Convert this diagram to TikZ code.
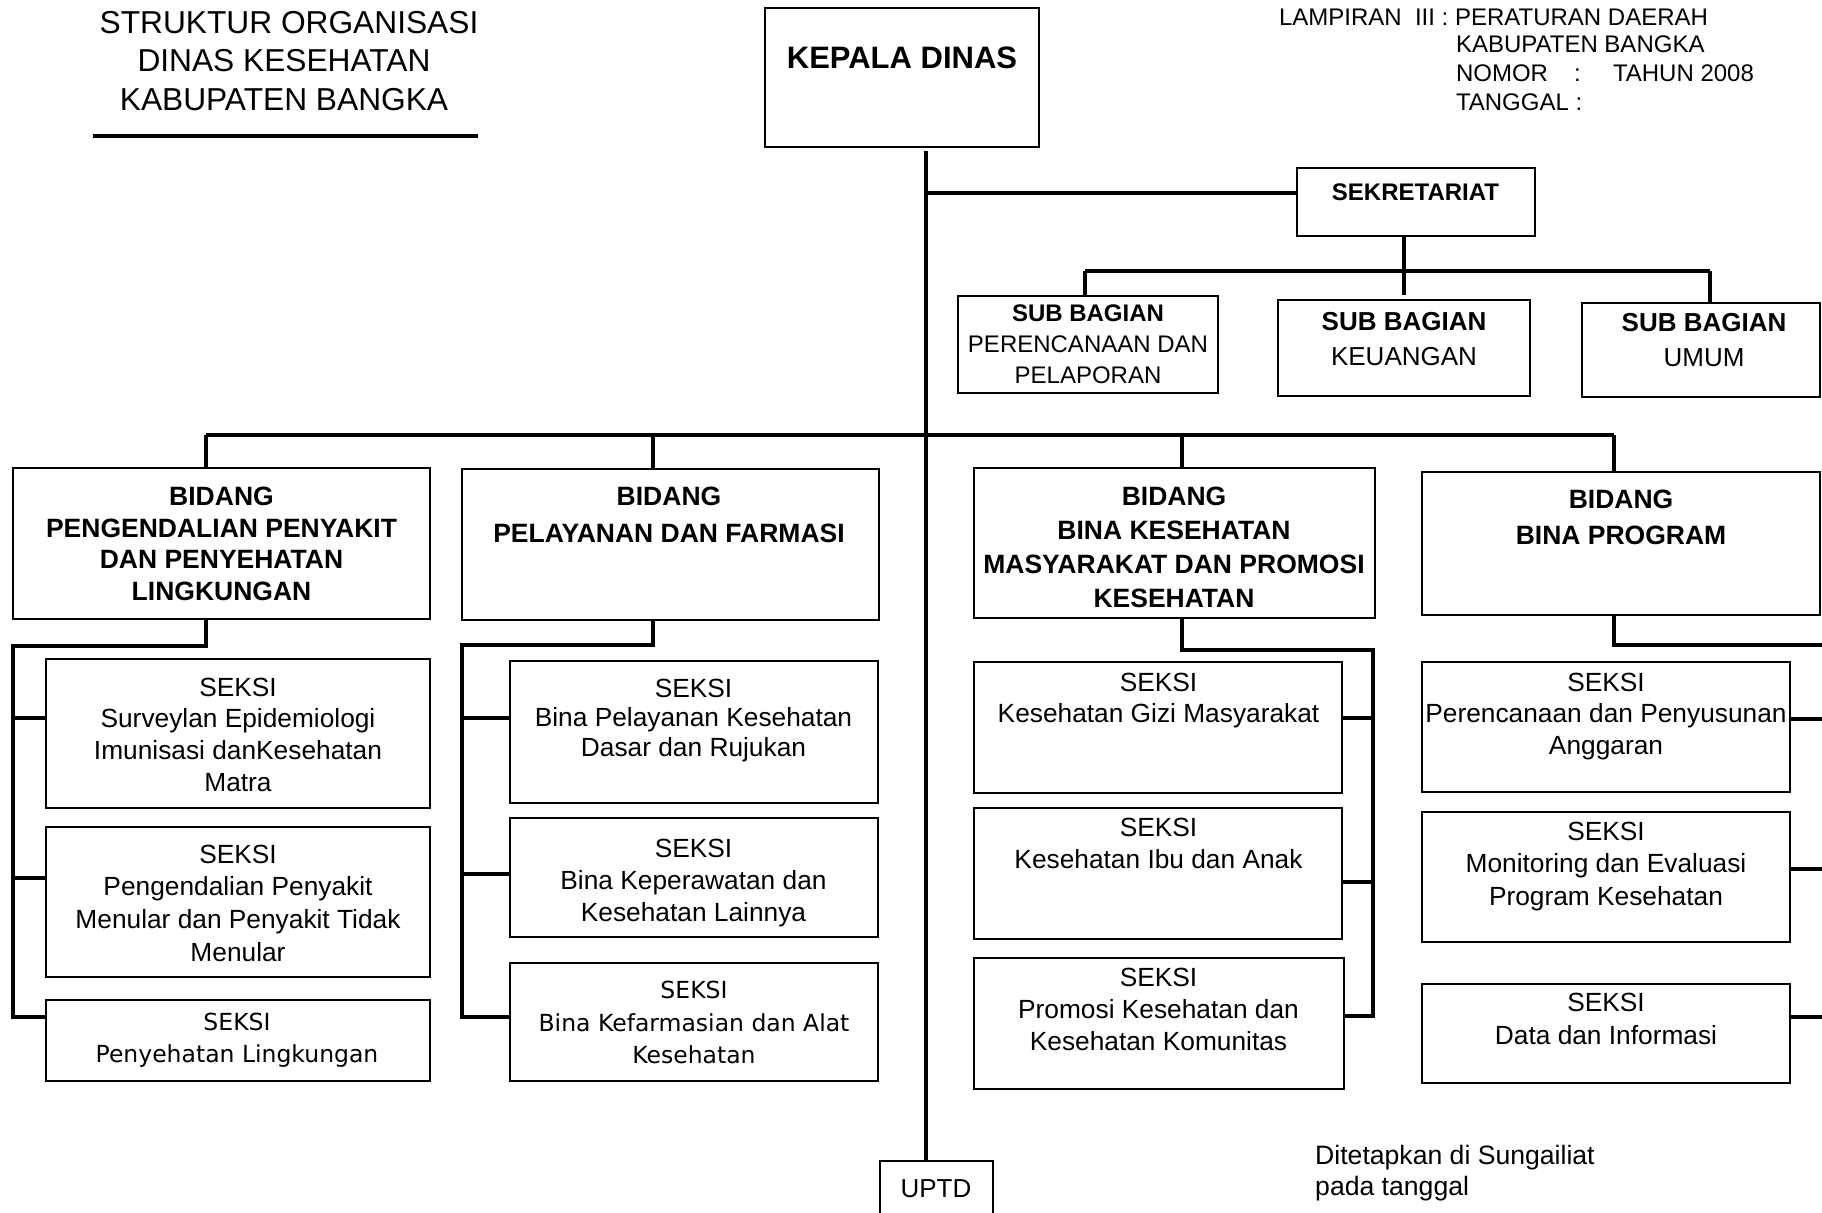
\documentclass[tikz,border=0pt]{standalone}
\usepackage{fontspec}
\setmainfont{Liberation Sans}
\newfontfamily\vfont{DejaVu Sans}
\newcommand{\ml}[1]{\begin{tabular}[t]{@{}c@{}}#1\end{tabular}}
\newcommand{\fs}[2]{\fontsize{#1}{#2}\selectfont}
\newcommand{\bx}[5]{\node[box, minimum width={#4pt-#2pt}, minimum height={#5pt-#3pt}] (#1) at ({(#2+#4)/2},{(#3+#5)/2}) {};}
\newcommand{\tx}[5]{\node[txt, font=#4] (#1) at (#2,#3) {\ml{#5}};}
\begin{document}
\begin{tikzpicture}[x=1pt,y=-1pt,
  box/.style={draw, line width=2.6pt, inner sep=0pt, outer sep=0pt},
  conn/.style={line width=3.6pt, line join=miter},
  txt/.style={anchor=base, inner sep=0pt, outer sep=0pt},
  lt/.style={anchor=base west, inner sep=0pt, outer sep=0pt, font=\fs{24}{28.3}}]
\useasboundingbox (0,0) rectangle (1822,1212);
\fill[white] (0,0) rectangle (1822,1212);
\clip (0,0) rectangle (1822,1212);

% ---- header texts
\tx{title}{284}{33.6}{\fs{31.7}{38.25}}{\hspace{10pt}STRUKTUR ORGANISASI\\DINAS KESEHATAN\\KABUPATEN BANGKA}
\coordinate (ulL) at (93,136);
\coordinate (ulR) at (478,136);
\draw[line width=4pt] (ulL) -- (ulR);

\node[lt] (lamp1) at (1279,25.4) {LAMPIRAN\ \ III : PERATURAN DAERAH};
\node[lt] (lamp2) at (1456,52.9) {KABUPATEN BANGKA};
\node[lt] (lamp3) at (1456,81.9) {NOMOR};
\node[lt] (lamp3c) at (1574,81.9) {:};
\node[lt] (lamp3t) at (1613,81.9) {TAHUN 2008};
\node[lt] (lamp4) at (1456,110.4) {TANGGAL :};

% ---- boxes
\bx{kd}{765}{8}{1039}{147}
\bx{sek}{1297}{168}{1535}{236}
\bx{sb1}{958}{296}{1218}{393}
\bx{sb2}{1278}{300}{1530}{396}
\bx{sb3}{1582}{303}{1820}{397}
\bx{b1}{13}{468}{430}{619}
\bx{b2}{462}{469}{879}{620}
\bx{b3}{974}{468}{1375}{618}
\bx{b4}{1422}{472}{1820}{615}
\bx{s11}{46}{659}{430}{808}
\bx{s12}{46}{827}{430}{977}
\bx{s13}{46}{1000}{430}{1081}
\bx{s21}{510}{661}{878}{803}
\bx{s22}{510}{818}{878}{937}
\bx{s23}{510}{963}{878}{1081}
\bx{s31}{974}{662}{1342}{793}
\bx{s32}{974}{808}{1342}{939}
\bx{s33}{974}{958}{1344}{1089}
\bx{s41}{1422}{662}{1790}{792}
\bx{s42}{1422}{812}{1790}{942}
\bx{s43}{1422}{984}{1790}{1083}
\bx{uptd}{880}{1161}{993}{1240}

% ---- box texts
\tx{kdt}{902}{68.6}{\bfseries\fs{31}{37}}{KEPALA DINAS}
\tx{sekt}{1415.5}{200.3}{\bfseries\fs{24}{29}}{SEKRETARIAT}
\tx{sb1t}{1088}{321.1}{\fs{24}{31.3}}{\textbf{SUB BAGIAN}\\PERENCANAAN DAN\\PELAPORAN}
\tx{sb2t}{1404}{330.1}{\fs{26}{35.5}}{\textbf{SUB BAGIAN}\\KEUANGAN}
\tx{sb3t}{1704}{331.8}{\fs{26}{34.2}}{\textbf{SUB BAGIAN}\\UMUM}
\tx{b1t}{221.5}{505.3}{\bfseries\fs{26.5}{31.7}}{BIDANG\\PENGENDALIAN PENYAKIT\\DAN PENYEHATAN\\LINGKUNGAN}
\tx{b2t}{669}{505.3}{\bfseries\fs{26.5}{36.7}}{BIDANG\\PELAYANAN DAN FARMASI}
\tx{b3t}{1174}{505.3}{\bfseries\fs{26.5}{34.2}}{BIDANG\\BINA KESEHATAN\\MASYARAKAT DAN PROMOSI\\KESEHATAN}
\tx{b4t}{1621}{508.5}{\bfseries\fs{26.5}{36}}{BIDANG\\BINA PROGRAM}
\tx{s11t}{238}{696}{\fs{26.3}{31.9}}{SEKSI\\Surveylan Epidemiologi\\Imunisasi danKesehatan\\Matra}
\tx{s12t}{238}{863.3}{\fs{26.3}{32.6}}{SEKSI\\Pengendalian Penyakit\\Menular dan Penyakit Tidak\\Menular}
\tx{s13t}{237}{1030.6}{\vfont\fs{23.5}{32.3}}{SEKSI\\Penyehatan Lingkungan}
\tx{s21t}{693.5}{697.3}{\fs{26.3}{29.5}}{SEKSI\\Bina Pelayanan Kesehatan\\Dasar dan Rujukan}
\tx{s22t}{693.5}{857.3}{\fs{26.3}{32}}{SEKSI\\Bina Keperawatan dan\\Kesehatan Lainnya}
\tx{s23t}{694}{998.6}{\vfont\fs{23.5}{32.5}}{SEKSI\\Bina Kefarmasian dan Alat\\Kesehatan}
\tx{s31t}{1158.5}{691.3}{\fs{26.3}{31.3}}{SEKSI\\Kesehatan Gizi Masyarakat}
\tx{s32t}{1158.5}{836.8}{\fs{26.3}{31.5}}{SEKSI\\Kesehatan Ibu dan Anak}
\tx{s33t}{1158.5}{986.3}{\fs{26.3}{32}}{SEKSI\\Promosi Kesehatan dan\\Kesehatan Komunitas}
\tx{s41t}{1606}{691}{\fs{26.3}{31.7}}{SEKSI\\Perencanaan dan Penyusunan\\Anggaran}
\tx{s42t}{1606}{840.1}{\fs{26.3}{32.5}}{SEKSI\\Monitoring dan Evaluasi\\Program Kesehatan}
\tx{s43t}{1606}{1011.8}{\fs{26.3}{32.5}}{SEKSI\\Data dan Informasi}
\tx{uptdt}{936}{1197.8}{\fs{26}{30}}{UPTD}
\node[anchor=base west, inner sep=0pt, font=\fs{26.6}{31}] (dit) at (1315,1164.3)
  {\begin{tabular}[t]{@{}l@{}}Ditetapkan di Sungailiat\\pada tanggal\end{tabular}};

% ---- connectors
\coordinate (spine) at (926,151);
\draw[conn] (spine) -- (uptd.north -| spine);
\coordinate (sekj) at (926,193);
\draw[conn] (sekj) -- (sekj -| sek.west);
\draw[conn] (sek.south -| sb2.north) -- ([yshift=5pt]sb2.north);
\coordinate (sbL) at (1085,271);
\coordinate (sbR) at (1710,271);
\draw[conn] (sbL) -- (sbR);
\draw[conn] (sbL |- sb1.north) -- (sbL) ;
\draw[conn] (sbR) -- (sbR |- sb3.north);

\coordinate (busL) at (206,435);
\coordinate (bus2) at (653,435);
\coordinate (bus3) at (1182,435);
\coordinate (busR) at (1614,435);
\draw[conn] (busL) -- (busR);
\draw[conn] (busL) -- (busL |- b1.north);
\draw[conn] (bus2) -- (bus2 |- b2.north);
\draw[conn] (bus3) -- (bus3 |- b3.north);
\draw[conn] (busR) -- (busR |- b4.north);

% B1 tree
\coordinate (t1) at (206,646);
\coordinate (l1) at (13,646);
\coordinate (l1b) at (13,1017);
\draw[conn] (t1 |- b1.south) -- (t1) -- (l1) -- (l1b) -- (l1b -| s13.west);
\coordinate (l1s1) at (13,718);
\coordinate (l1s2) at (13,878);
\draw[conn] (l1s1) -- (l1s1 -| s11.west);
\draw[conn] (l1s2) -- (l1s2 -| s12.west);

% B2 tree
\coordinate (t2) at (653,645);
\coordinate (l2) at (462,645);
\coordinate (l2b) at (462,1017);
\draw[conn] (t2 |- b2.south) -- (t2) -- (l2) -- (l2b) -- (l2b -| s23.west);
\coordinate (l2s1) at (462,718);
\coordinate (l2s2) at (462,874);
\draw[conn] (l2s1) -- (l2s1 -| s21.west);
\draw[conn] (l2s2) -- (l2s2 -| s22.west);

% B3 tree
\coordinate (t3) at (1182,650);
\coordinate (r3) at (1373,650);
\coordinate (r3b) at (1373,1016);
\draw[conn] (t3 |- b3.south) -- (t3) -- (r3) -- (r3b) -- (r3b -| s33.east);
\coordinate (r3s1) at (1373,718);
\coordinate (r3s2) at (1373,882);
\draw[conn] (r3s1) -- (r3s1 -| s31.east);
\draw[conn] (r3s2) -- (r3s2 -| s32.east);

% B4 tree
\coordinate (t4) at (1614,645);
\coordinate (r4) at (1822,645);
\draw[conn] (t4 |- b4.south) -- (t4) -- (r4);
\coordinate (r4s1) at (1822,719);
\coordinate (r4s2) at (1822,869);
\coordinate (r4s3) at (1822,1017);
\draw[conn] (r4s1 -| s41.east) -- (r4s1);
\draw[conn] (r4s2 -| s42.east) -- (r4s2);
\draw[conn] (r4s3 -| s43.east) -- (r4s3);
\end{tikzpicture}
\end{document}
